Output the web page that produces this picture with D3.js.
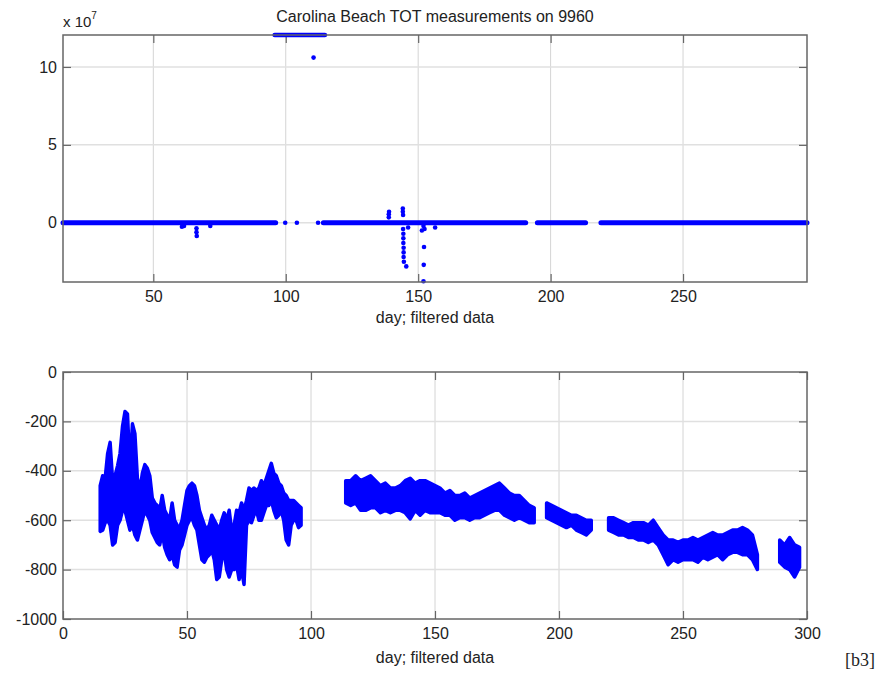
<!DOCTYPE html>
<html>
<head>
<meta charset="utf-8">
<script src="https://cdn.jsdelivr.net/npm/d3@7/dist/d3.min.js"></script>
<style>
body { margin: 0; background: #fff; }
text { font-family: "Liberation Sans", Arial, sans-serif; fill: #222; }
</style>
</head>
<body>
<svg id="fig" width="880" height="673"></svg>
<script>
// upper panel: raw TOT (x 10^7). runs of data sitting on ~0, plus outliers
var rawRunStart = [15.9, 114.2, 195.0, 219.0];
var rawRunEnd   = [96.2, 190.6, 213.2, 296.8];
var flagRun = [95.8, 114.8], flagVal = 12.05;   // points pinned at the top
var outDay = [60.8, 61.6, 66.3, 66.3, 66.4, 71.5, 99.8, 104.2, 110.5, 112.2,
              138.9, 138.9, 139.0, 144.2, 144.2, 144.3, 144.3, 144.4, 144.4, 144.4,
              144.5, 144.5, 144.5, 144.6, 145.5, 146.2, 151.4, 152.0, 152.4, 152.2,
              152.1, 152.0, 156.4];
var outVal = [-0.25, -0.2, -0.35, -0.6, -0.85, -0.2, 0, 0, 10.6, 0,
              0.35, 0.55, 0.7, 0.92, 0.7, 0.5, -0.4, -0.7, -1.0, -1.3,
              -1.6, -1.9, -2.2, -2.5, -2.8, -0.3, -0.5, -0.2, -0.4, -1.55,
              -2.7, -3.75, -0.3];

// lower panel: filtered data, spread of the dots per day (lo / hi)
var fDay = [15,16,17,18,19,20,21,22,23,24,25,26,27,28,29,30,31,32,33,34,35,36,37,38,39,40,
            41,42,43,44,45,46,47,48,49,50,51,52,53,54,55,56,57,58,59,60,61,62,63,64,65,66,
            67,68,69,70,71,72,73,74,75,76,77,78,79,80,81,82,83,84,85,86,87,88,89,90,91,92,
            93,94,95,96,
            114,116,118,120,122,124,126,128,130,132,134,136,138,140,142,144,146,148,150,152,
            154,156,158,160,162,164,166,168,170,172,174,176,178,180,182,184,186,188,190,
            195,197,199,201,203,205,207,209,211,213,
            220,222,224,226,228,230,232,234,236,238,240,242,244,246,248,250,252,254,256,258,
            260,262,264,266,268,270,272,274,276,278,280,
            289,291,293,295,297];
var fLo = [-645,-640,-610,-600,-620,-700,-690,-620,-600,-560,-560,-600,-640,-620,-660,-680,
           -640,-600,-560,-580,-600,-650,-670,-690,-700,-650,-710,-740,-760,-740,-780,-790,
           -720,-700,-660,-620,-600,-590,-620,-640,-700,-760,-770,-750,-740,-720,-760,-840,
           -830,-760,-730,-800,-830,-800,-800,-780,-840,-800,-860,-620,-600,-610,-580,-560,
           -600,-600,-570,-540,-540,-520,-560,-590,-580,-560,-600,-680,-700,-620,-600,-600,
           -630,-620,
           -530,-540,-530,-560,-560,-550,-550,-570,-560,-570,-560,-560,-570,-595,-560,-580,
           -560,-570,-570,-570,-580,-580,-600,-590,-590,-600,-590,-590,-580,-570,-560,-560,
           -580,-590,-600,-590,-600,-610,-610,
           -590,-600,-610,-620,-630,-620,-640,-650,-660,-640,
           -640,-650,-660,-660,-670,-670,-680,-680,-690,-680,-700,-740,-780,-760,-770,-760,
           -760,-760,-770,-750,-760,-750,-740,-760,-740,-730,-730,-740,-740,-760,-800,
           -770,-790,-800,-830,-790];
var fHi = [-460,-420,-430,-330,-285,-440,-420,-380,-330,-220,-160,-170,-390,-210,-250,-430,
           -480,-410,-375,-390,-420,-510,-530,-540,-560,-500,-560,-580,-600,-530,-600,-620,
           -630,-600,-540,-480,-460,-450,-460,-500,-560,-590,-620,-640,-620,-580,-600,-620,
           -640,-600,-570,-600,-560,-640,-620,-560,-570,-530,-560,-520,-470,-480,-470,-480,
           -470,-440,-460,-430,-400,-370,-410,-420,-450,-460,-490,-500,-520,-520,-520,-530,
           -540,-550,
           -440,-440,-420,-440,-430,-420,-440,-460,-450,-470,-470,-460,-440,-430,-450,-440,
           -440,-450,-460,-470,-490,-480,-500,-500,-490,-510,-500,-490,-480,-470,-460,-450,
           -470,-490,-500,-500,-520,-540,-550,
           -530,-540,-550,-560,-570,-580,-580,-590,-600,-600,
           -590,-590,-600,-610,-620,-610,-610,-610,-620,-600,-630,-660,-680,-680,-690,-680,
           -680,-670,-680,-670,-660,-650,-660,-660,-650,-640,-640,-630,-640,-660,-740,
           -680,-700,-670,-700,-710];

var topXTicks = [50, 100, 150, 200, 250];
var topYTicks = [0, 5, 10];
var botXTicks = [0, 50, 100, 150, 200, 250, 300];
var botYTicks = [-1000, -800, -600, -400, -200, 0];

var svg = d3.select("#fig");
var blue = "#0000ff";
var plain = function(d) { return String(d); };   // ascii hyphen, no thousands comma

var topX = d3.scaleLinear().domain([15.9, 296.8]).range([63, 807]);
var topY = d3.scaleLinear().domain([-3.8, 12.05]).range([282, 35]);
var botX = d3.scaleLinear().domain([0, 300]).range([63, 807]);
var botY = d3.scaleLinear().domain([-1000, 0]).range([619, 372]);

function panel(x, y, xt, yt) {
  var x0 = x.range()[0], x1 = x.range()[1], y0 = y.range()[1], y1 = y.range()[0];
  var g = svg.append("g");
  g.append("rect").attr("x", x0).attr("y", y0).attr("width", x1 - x0).attr("height", y1 - y0)
    .attr("fill", "#fff");
  // grid
  g.selectAll(".gx").data(xt.filter(function(d) { return x(d) > x0 + 1 && x(d) < x1 - 1; }))
    .enter().append("line")
    .attr("x1", function(d) { return x(d); }).attr("x2", function(d) { return x(d); })
    .attr("y1", y0).attr("y2", y1)
    .attr("stroke", "#d4d4d4").attr("stroke-width", 1);
  g.selectAll(".gy").data(yt.filter(function(d) { return y(d) > y0 + 1 && y(d) < y1 - 1; }))
    .enter().append("line")
    .attr("y1", function(d) { return y(d); }).attr("y2", function(d) { return y(d); })
    .attr("x1", x0).attr("x2", x1)
    .attr("stroke", "#e0e0e0").attr("stroke-width", 1.5);

  var ax = [
    [d3.axisBottom(x).tickValues(xt).tickFormat(plain).tickSizeInner(-8).tickSizeOuter(0).tickPadding(9), 0, y1],
    [d3.axisTop(x).tickValues(xt).tickSizeInner(-8).tickSizeOuter(0).tickFormat(""), 0, y0],
    [d3.axisLeft(y).tickValues(yt).tickFormat(plain).tickSizeInner(-8).tickSizeOuter(0).tickPadding(6), x0, 0],
    [d3.axisRight(y).tickValues(yt).tickSizeInner(-8).tickSizeOuter(0).tickFormat(""), x1, 0]
  ];
  ax.forEach(function(a) {
    var s = g.append("g").attr("transform", "translate(" + a[1] + "," + a[2] + ")").call(a[0]);
    s.select(".domain").remove();
    s.selectAll("line").attr("stroke", "#666").attr("stroke-width", 1.2);
    s.selectAll("text").style("font-family", "'Liberation Sans', Arial, sans-serif")
      .style("font-size", "16px").attr("fill", "#222");
  });
  return g;
}

function boxOn(g, x, y) {
  var x0 = x.range()[0], x1 = x.range()[1], y0 = y.range()[1], y1 = y.range()[0];
  g.append("rect").attr("x", x0).attr("y", y0).attr("width", x1 - x0).attr("height", y1 - y0)
    .attr("fill", "none").attr("stroke", "#666").attr("stroke-width", 1.5);
}

// ---- upper panel ----
var gt = panel(topX, topY, topXTicks, topYTicks);
gt.selectAll(".run").data(rawRunStart).enter().append("line")
  .attr("x1", function(d) { return topX(d); })
  .attr("x2", function(d, i) { return topX(rawRunEnd[i]); })
  .attr("y1", topY(0)).attr("y2", topY(0))
  .attr("stroke", blue).attr("stroke-width", 5).attr("stroke-linecap", "round");
gt.append("line")
  .attr("x1", topX(flagRun[0])).attr("x2", topX(flagRun[1]))
  .attr("y1", topY(flagVal)).attr("y2", topY(flagVal))
  .attr("stroke", blue).attr("stroke-width", 4.5).attr("stroke-linecap", "round");
gt.selectAll(".out").data(outDay).enter().append("circle")
  .attr("cx", function(d) { return topX(d); })
  .attr("cy", function(d, i) { return topY(outVal[i]); })
  .attr("r", 2.3).attr("fill", blue);
boxOn(gt, topX, topY);

svg.append("text").attr("x", 435).attr("y", 22).attr("text-anchor", "middle")
  .style("font-size", "16px").text("Carolina Beach TOT measurements on 9960");
var mult = svg.append("text").attr("x", 63).attr("y", 27).style("font-size", "15px");
mult.append("tspan").text("x 10");
mult.append("tspan").attr("dy", -8).style("font-size", "10px").text("7");
svg.append("text").attr("x", 435).attr("y", 323).attr("text-anchor", "middle")
  .style("font-size", "16px").text("day; filtered data");

// ---- lower panel ----
var gb = panel(botX, botY, botXTicks, botYTicks);
// split the filtered series into its contiguous runs
var runs = [], cur = [];
fDay.forEach(function(d, i) {
  if (cur.length && d - fDay[i - 1] > 3) { runs.push(cur); cur = []; }
  cur.push({ day: d, lo: fLo[i], hi: fHi[i] });
});
runs.push(cur);
var area = d3.area()
  .x(function(d) { return botX(d.day); })
  .y0(function(d) { return botY(d.lo); })
  .y1(function(d) { return botY(d.hi); });
gb.selectAll(".run").data(runs).enter().append("path")
  .attr("d", area)
  .attr("fill", blue).attr("stroke", blue).attr("stroke-width", 3.5)
  .attr("stroke-linejoin", "round");
boxOn(gb, botX, botY);

svg.append("text").attr("x", 435).attr("y", 663).attr("text-anchor", "middle")
  .style("font-size", "16px").text("day; filtered data");
svg.append("text").attr("x", 845).attr("y", 666)
  .style("font-family", "'Liberation Serif', 'Times New Roman', serif")
  .style("font-size", "18px").attr("fill", "#000").text("[b3]");
</script>
</body>
</html>
